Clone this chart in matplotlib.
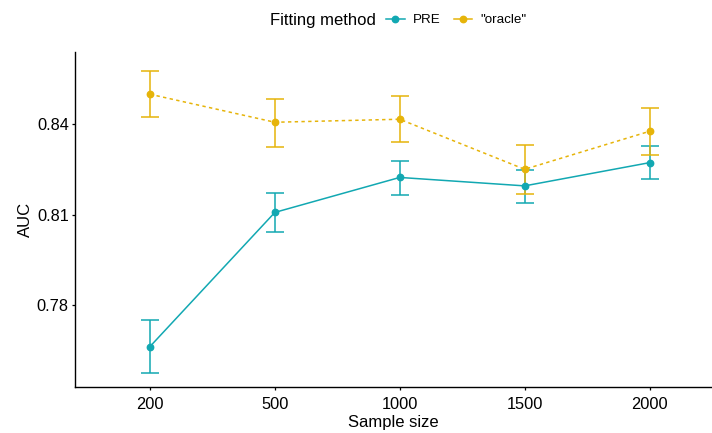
import matplotlib.pyplot as plt
from matplotlib.lines import Line2D

plt.rcParams['font.family'] = ['Liberation Sans', 'DejaVu Sans']

sample_sizes = ['200', '500', '1000', '1500', '2000']

pre_auc = [0.7662, 0.8107, 0.8223, 0.8195, 0.8272]
pre_low = [0.7576, 0.8042, 0.8166, 0.8139, 0.8217]
pre_high = [0.7750, 0.8170, 0.8278, 0.8249, 0.8327]

oracle_auc = [0.8499, 0.8406, 0.8416, 0.8250, 0.8376]
oracle_low = [0.8423, 0.8325, 0.8339, 0.8168, 0.8298]
oracle_high = [0.8576, 0.8484, 0.8494, 0.8331, 0.8453]

col_pre = '#12A8B2'
col_oracle = '#E6B40A'

fig = plt.figure(figsize=(7.12, 4.33), dpi=100)
ax = fig.add_axes([75 / 712, 1 - 387 / 433, 1 - 75 / 712, (387 - 52) / 433])

x = list(range(len(sample_sizes)))

def draw(vals, lo, hi, color, ls):
    err = [[v - l for v, l in zip(vals, lo)], [h - v for v, h in zip(vals, hi)]]
    ax.errorbar(x, vals, yerr=err, fmt='none', ecolor=color, elinewidth=1.1,
                capsize=6.8, capthick=1.1, zorder=2)
    ax.plot(x, vals, color=color, linestyle=ls, linewidth=1.1, marker='o',
            markersize=4.6, zorder=3)

draw(pre_auc, pre_low, pre_high, col_pre, '-')
draw(oracle_auc, oracle_low, oracle_high, col_oracle, (0, (2.2, 2.2)))

ax.set_xlim(-0.6, 4.5)
ax.set_ylim(0.7528, 0.8639)
ax.set_xticks(x)
ax.set_xticklabels(sample_sizes)
ax.set_yticks([0.78, 0.81, 0.84])
ax.set_yticklabels(['0.78', '0.81', '0.84'])
ax.tick_params(axis='x', pad=5)
ax.tick_params(labelsize=11.8, colors='black', length=2.5, width=0.9)
ax.tick_params(axis='y', pad=2)
ax.set_xlabel('Sample size', fontsize=12, labelpad=2)
ax.set_ylabel('AUC', fontsize=12, labelpad=3)
ax.spines['top'].set_visible(False)
ax.spines['right'].set_visible(False)
for s in ['left', 'bottom']:
    ax.spines[s].set_linewidth(1.0)

# legend on top
fig.text(270 / 712, 1 - 20 / 433, 'Fitting method', fontsize=12, va='center', ha='left')
handles = [Line2D([], [], color=col_pre, marker='o', markersize=4.6, linewidth=1.1),
           Line2D([], [], color=col_oracle, marker='o', markersize=4.6, linewidth=1.1)]
fig.legend(handles, ['PRE', '"oracle"'], ncol=2, frameon=False, fontsize=9.6,
           loc='center left', bbox_to_anchor=(374 / 712, 1 - 20 / 433),
           handlelength=1.4, handletextpad=0.6, columnspacing=1.0)

plt.savefig('out.png', dpi=100)
